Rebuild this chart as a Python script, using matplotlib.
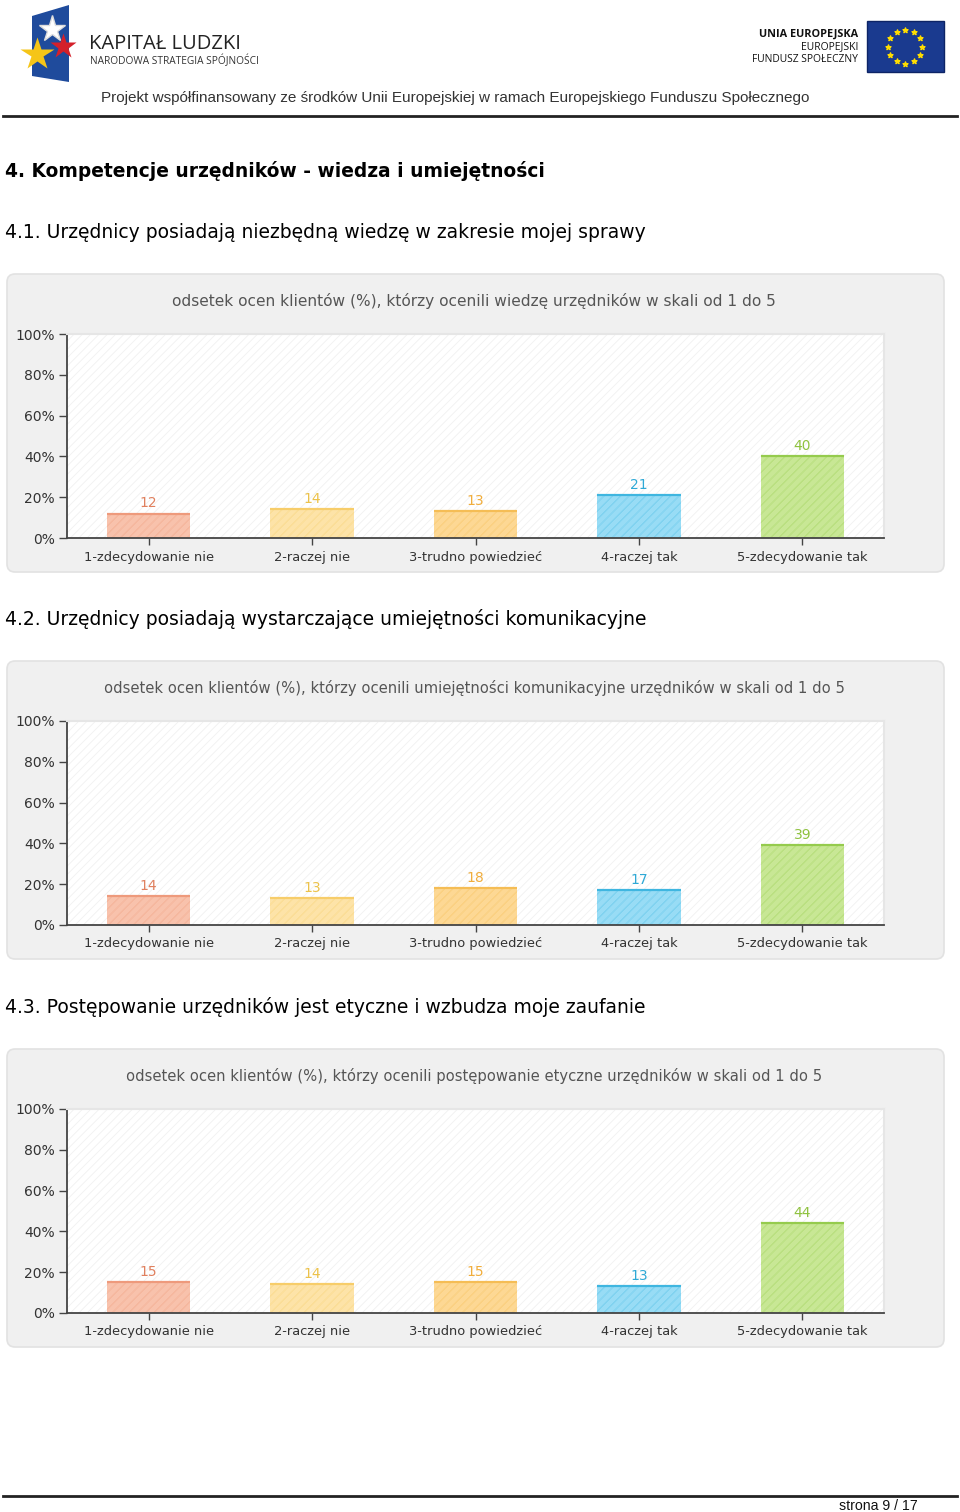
import numpy as np
import matplotlib
matplotlib.use("Agg")
import matplotlib.pyplot as plt
from matplotlib.patches import FancyBboxPatch, Rectangle, Polygon

# ---- data ----
categories = ["1-zdecydowanie nie", "2-raczej nie", "3-trudno powiedzieć",
              "4-raczej tak", "5-zdecydowanie tak"]
wiedza = [12, 14, 13, 21, 40]
komunikacja = [14, 13, 18, 17, 39]
etyka = [15, 14, 15, 13, 44]
y_ticks = [0, 20, 40, 60, 80, 100]
y_tick_labels = ["0%", "20%", "40%", "60%", "80%", "100%"]

section_title = "4. Kompetencje urzędników - wiedza i umiejętności"
questions = ["4.1. Urzędnicy posiadają niezbędną wiedzę w zakresie mojej sprawy",
             "4.2. Urzędnicy posiadają wystarczające umiejętności komunikacyjne",
             "4.3. Postępowanie urzędników jest etyczne i wzbudza moje zaufanie"]
chart_titles = [
    "odsetek ocen klientów (%), którzy ocenili wiedzę urzędników w skali od 1 do 5",
    "odsetek ocen klientów (%), którzy ocenili umiejętności komunikacyjne urzędników w skali od 1 do 5",
    "odsetek ocen klientów (%), którzy ocenili postępowanie etyczne urzędników w skali od 1 do 5",
]
series = [wiedza, komunikacja, etyka]

bar_fill = ["#f8bfa8", "#fde2a3", "#fdd68e", "#93dbf5", "#c5e68f"]
bar_top = ["#ee9a7c", "#f7cd6a", "#f5bd55", "#3fb6e0", "#95cb4d"]
label_col = ["#e0805e", "#ecc24a", "#f0ad3c", "#2fa9d6", "#8fc23f"]

plt.rcParams["hatch.linewidth"] = 0.6
W, H = 960, 1512
fig = plt.figure(figsize=(W / 100, H / 100), dpi=100)
fig.patch.set_facecolor("white")


def rect(x0, y0, x1, y1):
    return [x0 / W, 1 - y1 / H, (x1 - x0) / W, (y1 - y0) / H]


page = fig.add_axes([0, 0, 1, 1])
page.set_xlim(0, W)
page.set_ylim(H, 0)
page.axis("off")

# ---- header ----
page.add_patch(Polygon([[32, 16], [69, 5], [69, 82], [32, 76]], closed=True,
                       facecolor="#1f4b9c", edgecolor="none"))
page.plot([52], [29], marker="*", ms=20, color="white", mec="#dddddd")
page.plot([63], [46], marker="*", ms=19, color="#d4202a", mec="none")
page.plot([37], [54], marker="*", ms=25, color="#f5c518", mec="none")
page.text(89, 44, "KAPITAŁ LUDZKI", fontsize=14.5, family="Open Sans",
          color="#222222", va="center", ha="left")
page.text(90, 61, "NARODOWA STRATEGIA SPÓJNOŚCI", fontsize=7.3,
          family="Open Sans", color="#333333", va="center", ha="left")
page.text(858, 34, "UNIA EUROPEJSKA", fontsize=7.8, family="Open Sans",
          weight="bold", color="#111111", va="center", ha="right")
page.text(858, 47, "EUROPEJSKI", fontsize=7.5, family="Open Sans",
          color="#111111", va="center", ha="right")
page.text(858, 60, "FUNDUSZ SPOŁECZNY", fontsize=7.4, family="Open Sans",
          color="#111111", va="center", ha="right")
page.add_patch(Rectangle((867, 21), 77, 51, facecolor="#1a3a8f", edgecolor="#0d2466"))
ang = np.linspace(0, 2 * np.pi, 13)[:-1]
page.scatter(905 + 17 * np.cos(ang), 46.5 + 17 * np.sin(ang), marker="*",
             s=14, color="#ffdd00", zorder=3)
page.text(455, 98, "Projekt współfinansowany ze środków Unii Europejskiej w ramach "
          "Europejskiego Funduszu Społecznego", fontsize=10.95,
          family="Liberation Sans", color="#333333", ha="center", va="center")
page.plot([3, 957], [116, 116], color="#222222", lw=2)

page.text(5, 171, section_title, fontsize=13.4, weight="bold", family="DejaVu Sans",
          color="black", va="center", ha="left")

# ---- footer ----
page.plot([3, 957], [1496, 1496], color="#222222", lw=2)
page.text(878, 1506, "strona 9 / 17", fontsize=10.2, family="Liberation Sans",
          color="#111111", ha="center", va="center")

x = np.arange(len(categories))
bw = 0.51

for k, (vals, ctitle, q) in enumerate(zip(series, chart_titles, questions)):
    off = [0, 387, 775][k]
    page.text(5, 232 + off, q, fontsize=13.5, family="DejaVu Sans",
              color="black", va="center", ha="left")
    page.add_patch(FancyBboxPatch((7, 274 + off), 937, 298,
                                  boxstyle="round,pad=0,rounding_size=8",
                                  facecolor="#f0f0f0", edgecolor="#e2e2e2", lw=1.2))
    tsize = 11.1 if k == 0 else 10.6
    page.text(474, 301 + off, ctitle, fontsize=tsize, family="DejaVu Sans",
              color="#555555", ha="center", va="center")

    ax = fig.add_axes(rect(67, 334 + off, 884, 538 + off))
    ax.set_xlim(-0.5, len(categories) - 0.5)
    ax.set_ylim(0, 100)
    ax.set_facecolor("white")
    ax.add_patch(Rectangle((0, 0), 1, 1, transform=ax.transAxes, facecolor="white",
                           edgecolor="#f1f1f1", hatch="////", lw=0, zorder=0))
    ax.bar(x, vals, width=bw, color=bar_fill, edgecolor=bar_top, hatch="////",
           lw=0, zorder=2, alpha=0.95)
    ax.bar(x, vals, width=bw, color="none", edgecolor=bar_fill, hatch="////",
           lw=0, zorder=2)
    ax.hlines(vals, x - bw / 2, x + bw / 2, colors=bar_top, lw=1.6, zorder=3)
    for xi, v, c in zip(x, vals, label_col):
        ax.annotate(str(v), (xi, v), xytext=(0, 2.5), textcoords="offset points",
                    ha="center", va="bottom", fontsize=10, color=c,
                    family="DejaVu Sans")
    ax.set_yticks(y_ticks)
    ax.set_yticklabels(y_tick_labels)
    ax.set_xticks(x)
    ax.set_xticklabels(categories)
    ax.tick_params(axis="y", direction="out", length=6, width=1, color="#444444",
                   labelsize=10, labelcolor="#333333", pad=3)
    ax.tick_params(axis="x", direction="out", length=5, width=1, color="#444444",
                   labelsize=9.4, labelcolor="#333333", pad=4)
    for s in ["left", "bottom"]:
        ax.spines[s].set_color("#444444")
        ax.spines[s].set_linewidth(1.3)
    for s in ["top", "right"]:
        ax.spines[s].set_color("#e6e6e6")
        ax.spines[s].set_linewidth(1.5)
    for lab in ax.get_xticklabels() + ax.get_yticklabels():
        lab.set_family("DejaVu Sans")

fig.savefig("out.png", dpi=100, facecolor="white")
